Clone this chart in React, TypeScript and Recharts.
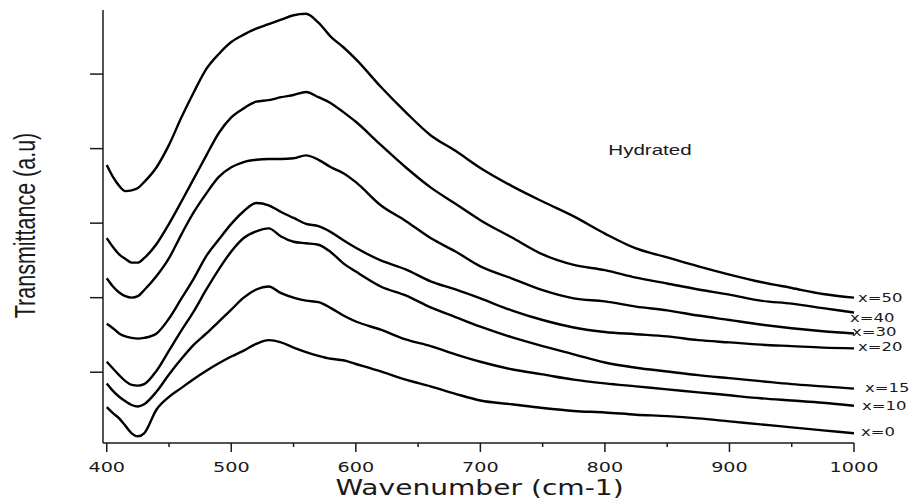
import { LineChart, Line, XAxis, YAxis } from "recharts"

// wavenumber grid (cm-1)
const wavenumbers = [
  400, 405, 410, 415, 420, 425, 430, 440, 450, 460, 470, 480, 490, 500, 510, 520, 530, 540, 550, 560,
  570, 580, 590, 600, 620, 640, 660, 680, 700, 725, 750, 775, 800, 825, 850, 875, 900, 925, 950, 975, 1000,
]

// transmittance (a.u, stacked) for each composition
const x50 = [
  3.78, 3.62, 3.5, 3.43, 3.44, 3.47, 3.55, 3.75, 4.05, 4.42, 4.76, 5.07, 5.27, 5.43, 5.53, 5.61, 5.67, 5.73, 5.79, 5.81,
  5.69, 5.5, 5.36, 5.2, 4.83, 4.49, 4.18, 3.97, 3.74, 3.5, 3.29, 3.09, 2.86, 2.66, 2.54, 2.42, 2.31, 2.21, 2.13, 2.05, 2.0,
]
const x40 = [
  2.8, 2.68, 2.58, 2.52, 2.47, 2.47, 2.53, 2.72, 2.99, 3.29, 3.6, 3.91, 4.21, 4.42, 4.54, 4.63, 4.65, 4.69, 4.72, 4.76,
  4.69, 4.61, 4.49, 4.36, 4.05, 3.75, 3.48, 3.26, 3.04, 2.81, 2.58, 2.44, 2.37, 2.27, 2.19, 2.11, 2.04, 1.96, 1.92, 1.86, 1.8,
]
const x30 = [
  2.26, 2.15, 2.07, 2.02, 2.0, 2.02, 2.1, 2.29, 2.53, 2.85, 3.15, 3.4, 3.62, 3.75, 3.82, 3.85, 3.86, 3.86, 3.87, 3.91,
  3.85, 3.75, 3.67, 3.55, 3.24, 3.03, 2.8, 2.62, 2.42, 2.26, 2.1, 1.99, 1.95, 1.88, 1.83, 1.76, 1.7, 1.64, 1.59, 1.55, 1.52,
]
const x20 = [
  1.65, 1.59, 1.52, 1.48, 1.46, 1.45, 1.46, 1.52, 1.72, 1.99, 2.26, 2.56, 2.78, 2.99, 3.16, 3.27, 3.24, 3.15, 3.07, 2.99,
  2.96, 2.88, 2.77, 2.67, 2.5, 2.38, 2.22, 2.11, 1.99, 1.83, 1.7, 1.6, 1.54, 1.51, 1.48, 1.43, 1.4, 1.37, 1.35, 1.33, 1.32,
]
const x15 = [
  1.14, 1.05, 0.96, 0.88, 0.83, 0.82, 0.84, 1.02, 1.29, 1.56, 1.82, 2.11, 2.38, 2.62, 2.8, 2.89, 2.93, 2.82, 2.75, 2.73,
  2.71, 2.61, 2.46, 2.35, 2.15, 2.03, 1.87, 1.74, 1.61, 1.47, 1.35, 1.24, 1.13, 1.06, 1.01, 0.96, 0.92, 0.88, 0.84, 0.81, 0.78,
]
const x10 = [
  0.85, 0.75, 0.67, 0.61, 0.56, 0.54, 0.57, 0.74, 0.97, 1.18, 1.37, 1.52, 1.68, 1.84, 2.0, 2.11, 2.15, 2.06, 2.0, 1.96,
  1.94, 1.86, 1.76, 1.68, 1.57, 1.44, 1.35, 1.24, 1.14, 1.04, 0.97, 0.9, 0.85, 0.81, 0.77, 0.73, 0.69, 0.65, 0.62, 0.59, 0.55,
]
const x0 = [
  0.53, 0.45, 0.38, 0.28, 0.18, 0.14, 0.18, 0.5, 0.67, 0.79, 0.91, 1.02, 1.12, 1.21, 1.29, 1.38, 1.43, 1.4, 1.33, 1.27,
  1.22, 1.18, 1.16, 1.11, 1.01, 0.9, 0.81, 0.71, 0.62, 0.57, 0.52, 0.48, 0.46, 0.43, 0.41, 0.38, 0.34, 0.3, 0.26, 0.22, 0.18,
]

const seriesKeys = ["x50", "x40", "x30", "x20", "x15", "x10", "x0"]
const seriesNames = ["x=50", "x=40", "x=30", "x=20", "x=15", "x=10", "x=0"]
const seriesValues = [x50, x40, x30, x20, x15, x10, x0]
// end label nudges [dx, dy] in px
const labelOffsets = [[4, 0], [-4, 5], [-2, -1], [4, -1], [11, -1], [8, 0], [7, -1]]

const xTicks = [400, 450, 500, 550, 600, 650, 700, 750, 800, 850, 900, 950, 1000]
const yTicks = [1, 2, 3, 4, 5]

// the original figure is stretched sideways, so every text gets this x scale
const STRETCH = 1.37
const INK = "#1a1a1a"

const data = wavenumbers.map((wn, i) => {
  const row: Record<string, number> = { wn }
  seriesKeys.forEach((k, j) => {
    row[k] = seriesValues[j][i]
  })
  return row
})

function WaveTick({ x, y, payload }: any) {
  const major = payload.value % 100 === 0
  return (
    <g>
      <line x1={x} x2={x} y1={y} y2={y + (major ? 9 : 4)} stroke={INK} strokeWidth={1.5} />
      {major && (
        <text
          transform={`translate(${x},${y + 29}) scale(${STRETCH},1)`}
          textAnchor="middle"
          fontFamily="DejaVu Sans"
          fontSize={14}
          fill={INK}
        >
          {payload.value}
        </text>
      )}
    </g>
  )
}

// y ticks are bare marks, no numbers
function MarkTick({ x, y }: any) {
  return <line x1={x - 13} x2={x} y1={y} y2={y} stroke={INK} strokeWidth={1.5} />
}

function XTitle({ viewBox }: any) {
  const cx = viewBox ? viewBox.x + viewBox.width / 2 : 479
  const top = viewBox ? viewBox.y : 443
  return (
    <text
      transform={`translate(${cx + 1},${top + 52}) scale(${STRETCH},1)`}
      textAnchor="middle"
      fontFamily="DejaVu Sans"
      fontSize={20.5}
      fill={INK}
    >
      Wavenumber (cm-1)
    </text>
  )
}

function YTitle({ viewBox }: any) {
  const cy = viewBox ? viewBox.y + viewBox.height / 2 : 226
  return (
    <text
      transform={`translate(35,${cy - 1}) scale(${STRETCH},1) rotate(-90)`}
      textAnchor="middle"
      fontFamily="Liberation Sans"
      fontSize={21.5}
      fill={INK}
    >
      Transmittance (a.u)
    </text>
  )
}

function endLabel(j: number) {
  return (props: any) => {
    const { x, y, index } = props
    if (index !== wavenumbers.length - 1) return null
    const [dx, dy] = labelOffsets[j]
    return (
      <text
        key={`lbl-${j}`}
        transform={`translate(${x + dx},${y + dy + 4}) scale(${STRETCH},1)`}
        textAnchor="start"
        fontFamily="DejaVu Sans"
        fontSize={12}
        fill={INK}
      >
        {seriesNames[j]}
      </text>
    )
  }
}

export default function App() {
  return (
    <div style={{ position: "absolute", left: 0, top: 0, width: 914, height: 502, background: "#fff" }}>
      <LineChart width={914} height={502} data={data} margin={{ top: 10, right: 60, bottom: 0, left: 0 }}>
        <XAxis
          dataKey="wn"
          type="number"
          domain={[397, 1000]}
          ticks={xTicks}
          interval={0}
          allowDataOverflow
          height={59}
          tickSize={0}
          tickMargin={0}
          tickLine={false}
          tick={<WaveTick />}
          axisLine={{ stroke: INK, strokeWidth: 1.5 }}
          label={<XTitle />}
        />
        <YAxis
          type="number"
          domain={[0.05, 5.86]}
          ticks={yTicks}
          interval={0}
          allowDataOverflow
          width={103}
          tickSize={0}
          tickMargin={0}
          tickLine={false}
          tick={<MarkTick />}
          axisLine={{ stroke: INK, strokeWidth: 1.5 }}
          label={<YTitle />}
        />
        {seriesKeys.map((k, j) => (
          <Line
            key={k}
            dataKey={k}
            type="monotone"
            stroke="#000"
            strokeWidth={2.4}
            dot={false}
            activeDot={false}
            isAnimationActive={false}
            label={endLabel(j)}
          />
        ))}
        <text
          transform={`translate(650,155) scale(${STRETCH},1)`}
          textAnchor="middle"
          fontFamily="Liberation Sans"
          fontSize={15}
          fill={INK}
        >
          Hydrated
        </text>
      </LineChart>
    </div>
  )
}
